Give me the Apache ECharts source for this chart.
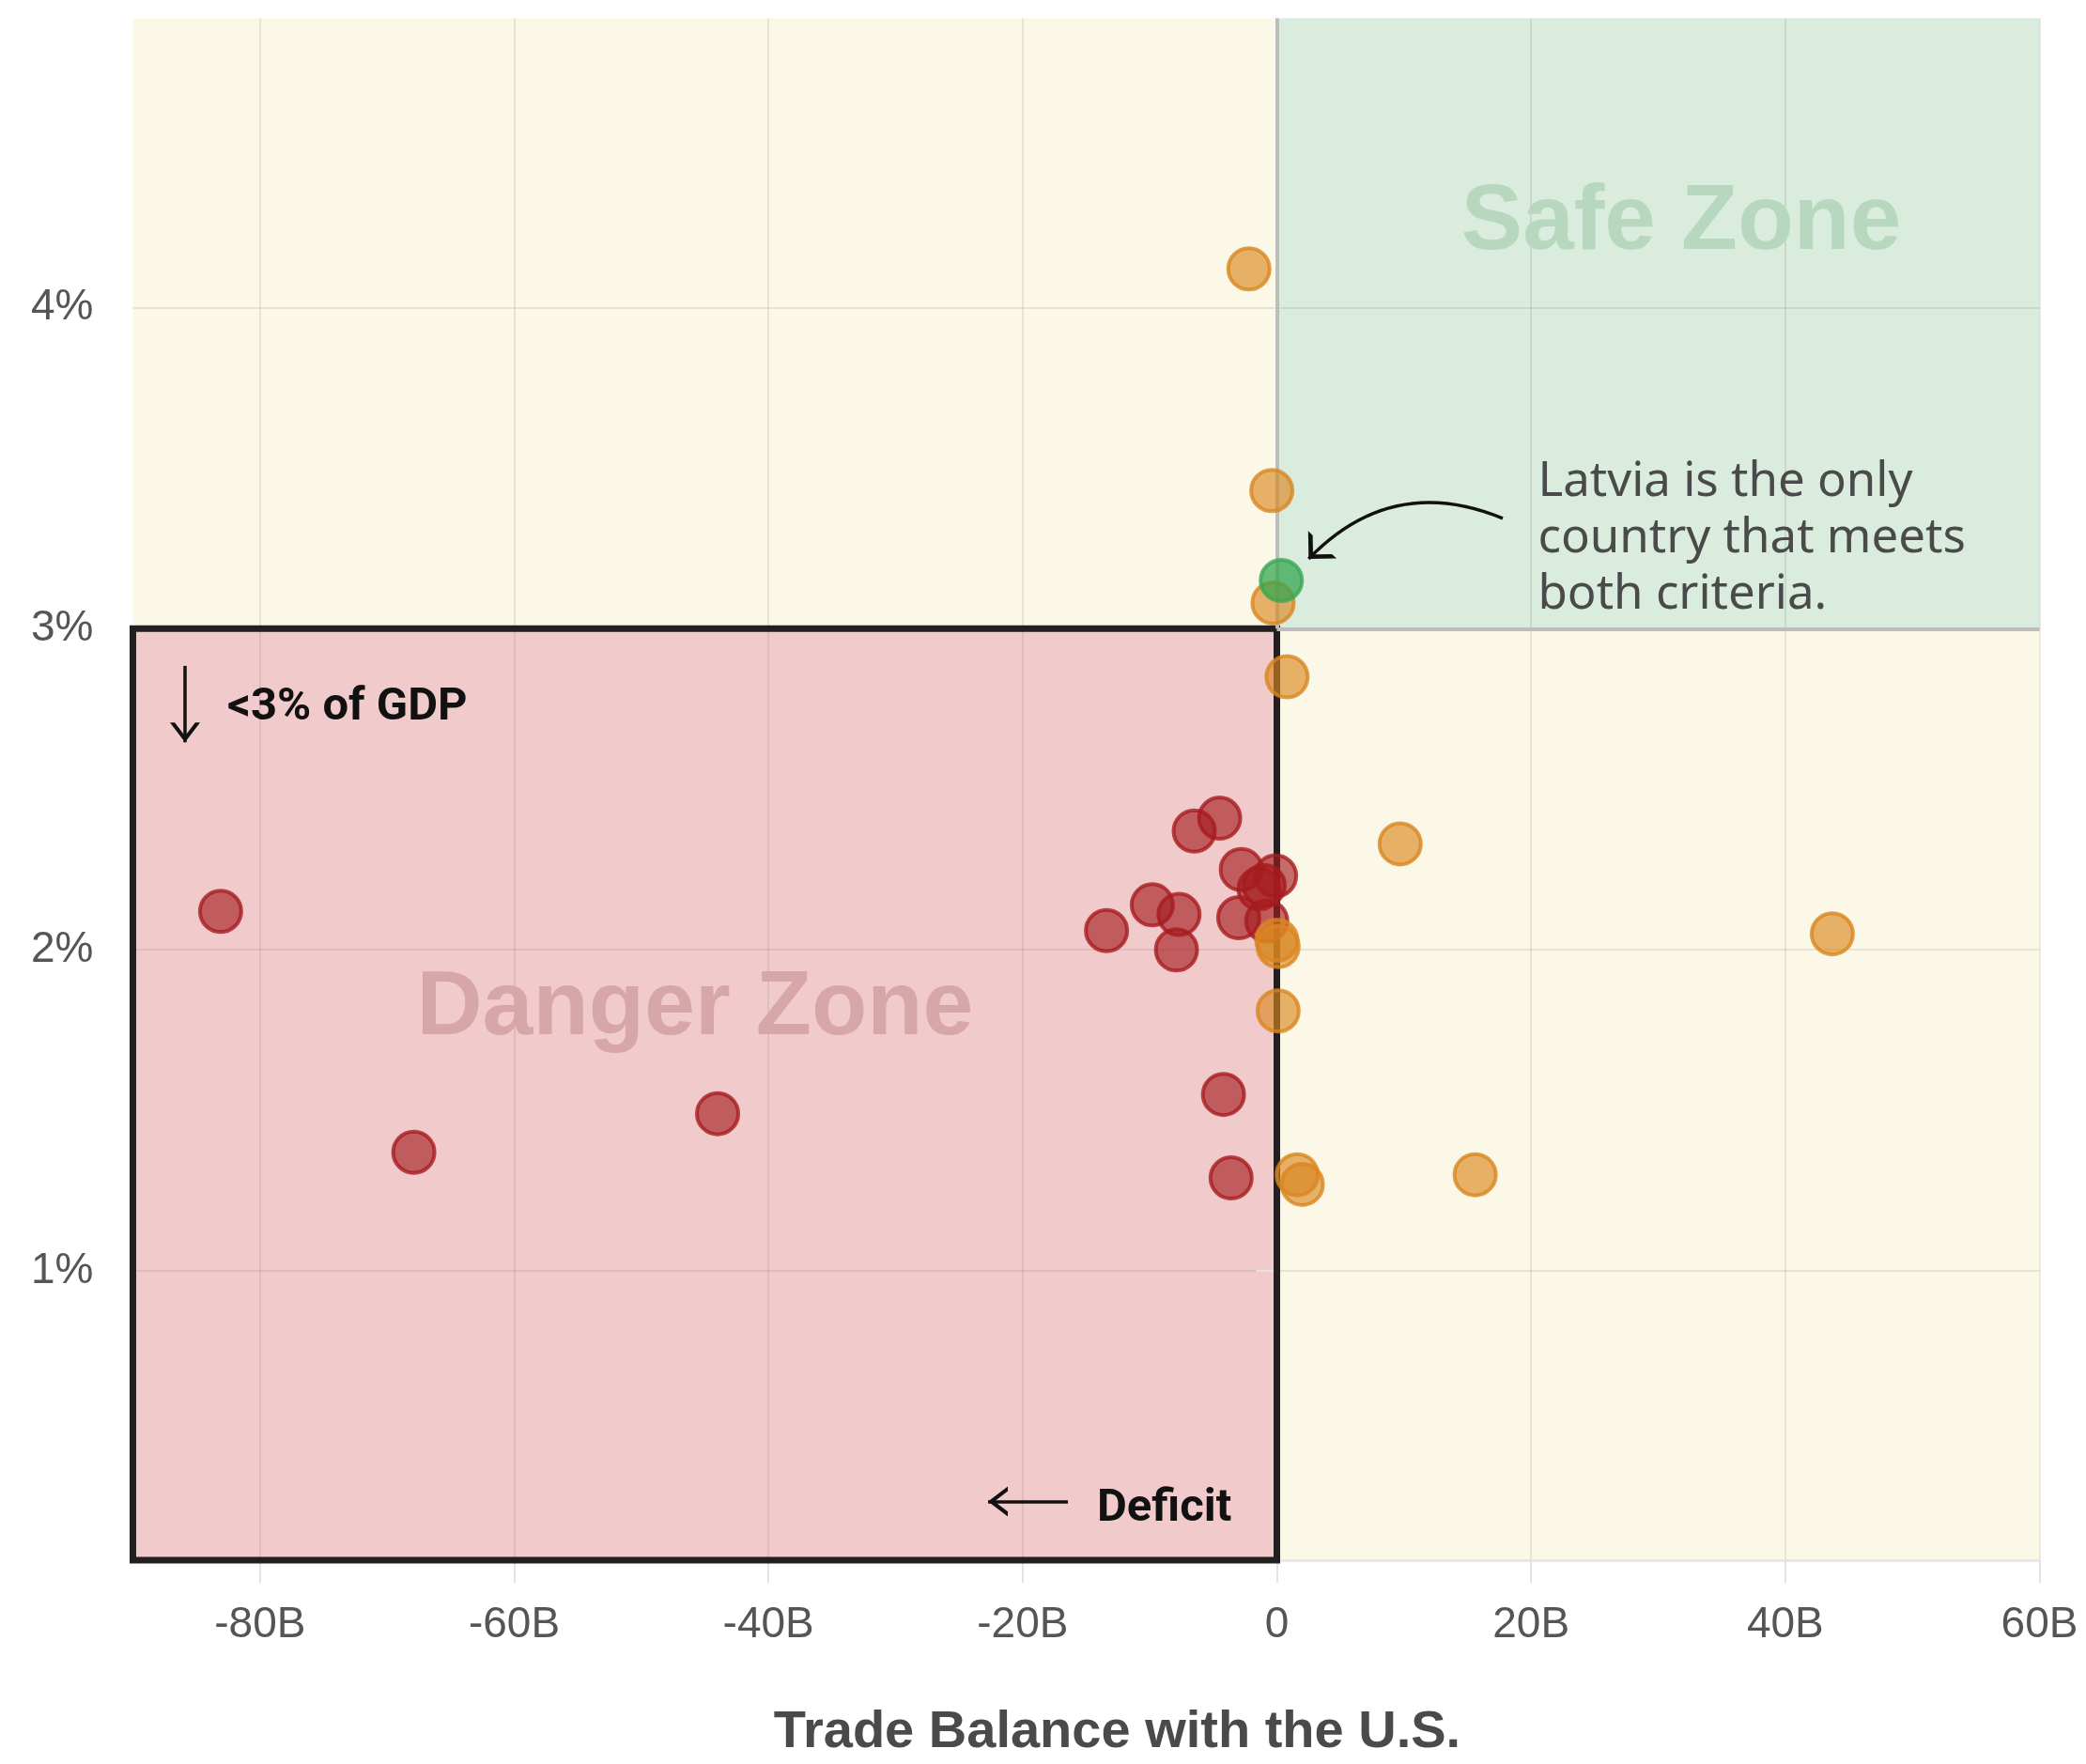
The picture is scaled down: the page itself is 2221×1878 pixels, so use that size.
<!DOCTYPE html>
<html><head><meta charset="utf-8">
<script src="https://cdn.jsdelivr.net/npm/echarts@6/dist/echarts.min.js"></script>
<style>html,body{margin:0;padding:0;background:#fff}#c{width:2221px;height:1878px}</style>
</head><body><div id="c"></div>
<script>
// ---- data ----
const xTicks = [-80, -60, -40, -20, 0, 20, 40, 60];       // trade balance, billions USD
const yTicks = [1, 2, 3, 4];                               // % of GDP
const xRange = [-90, 60];
const yRange = [0.1, 4.9];
const gdpLimit = 3;
// [trade balance with the U.S. (B), % of GDP]
const dangerPoints = [
  [-83.1, 2.12], [-67.9, 1.37], [-44.0, 1.49], [-13.4, 2.06], [-9.8, 2.14],
  [-7.7, 2.11], [-7.9, 2.00], [-6.5, 2.37], [-4.5, 2.41], [-2.8, 2.25],
  [-0.1, 2.23], [-1.0, 2.20], [-1.4, 2.19], [-3.0, 2.10], [-0.8, 2.09],
  [-4.2, 1.55], [-3.6, 1.29]
];
const oneCriterionPoints = [
  [-2.2, 4.12], [-0.4, 3.43], [-0.3, 3.08], [0.8, 2.85], [9.7, 2.33],
  [43.7, 2.05], [0.0, 2.03], [0.1, 2.01], [0.1, 1.81], [1.6, 1.30],
  [2.0, 1.27], [15.6, 1.30]
];
const bothCriteriaPoints = [[0.35, 3.15]];
// annotation arrow from the note to Latvia
const noteArrow = [[17.77, 3.343], [2.5, 3.217]];
const texts = {
  xTitle: 'Trade Balance with the U.S.',
  safe: 'Safe Zone',
  danger: 'Danger Zone',
  gdp: '<3% of GDP',
  deficit: 'Deficit',
  note: 'Latvia is the only\ncountry that meets\nboth criteria.'
};

const CHEV = 'path://M16,0L16.1,0L16,0.1Z M16,20L32,40L26.9,40L16,26.4L5.1,40L0,40Z';
const tickFont = 'Liberation Sans, Arial, sans-serif';
const arrowStyle = {color: '#111', width: 3.5, type: 'solid'};

const chart = echarts.init(document.getElementById('c'), null, {renderer: 'canvas'});

const option = {
  animation: false,
  backgroundColor: '#ffffff',
  grid: {left: 141.5, right: 49.5, top: 19.5, bottom: 202.5, containLabel: false},
  xAxis: {
    type: 'value', min: xRange[0], max: xRange[1],
    name: texts.xTitle, nameLocation: 'middle', nameGap: 156,
    nameTextStyle: {fontSize: 56, fontWeight: 'bold', color: '#4a4a4a', fontFamily: tickFont, padding: [0, 0, 0, 66]},
    axisLine: {show: true, lineStyle: {color: '#E8E8E8', width: 3}},
    axisTick: {show: true, customValues: xTicks, length: 24, lineStyle: {color: '#E3E3E3', width: 2}},
    axisLabel: {customValues: xTicks, formatter: v => v === 0 ? '0' : v + 'B', fontSize: 46, color: '#555', margin: 46, fontFamily: tickFont},
    splitLine: {show: true, lineStyle: {color: 'rgba(0,0,0,0.08)', width: 2}}
  },
  yAxis: {
    type: 'value', min: yRange[0], max: yRange[1],
    axisLine: {show: false},
    axisTick: {show: true, customValues: yTicks, length: 22, lineStyle: {color: '#E3E3E3', width: 2}},
    axisLabel: {customValues: yTicks, formatter: v => v + '%', fontSize: 46, color: '#555', margin: 42, fontFamily: tickFont},
    splitLine: {show: true, lineStyle: {color: 'rgba(0,0,0,0.08)', width: 2}}
  },
  series: [
    {
      name: 'Zones', type: 'scatter', data: [], clip: false, silent: true,
      markArea: {
        silent: true, z: -1,
        label: {show: false},
        data: [
          [{coord: [xRange[0], yRange[0]], itemStyle: {color: '#FBF8E7'}}, {coord: [xRange[1], yRange[1]]}],
          [{coord: [xRange[0], yRange[0]], itemStyle: {color: '#F1CBCC'}}, {coord: [0, gdpLimit]}],
          [{coord: [0, gdpLimit], itemStyle: {color: '#D9ECDD'}}, {coord: [xRange[1], yRange[1]]}]
        ]
      }
    },
    {
      name: 'Note arrow', type: 'lines', coordinateSystem: 'cartesian2d', silent: true, z: 1,
      symbol: ['none', CHEV], symbolSize: [32, 42],
      lineStyle: {color: '#111', width: 3.5, type: 'solid', curveness: -0.34, opacity: 1},
      data: [{coords: noteArrow}]
    },
    {
      name: 'Danger', type: 'scatter', data: dangerPoints, clip: false,
      symbolSize: 44,
      itemStyle: {color: 'rgba(165,28,31,0.8)', borderColor: '#A81C1F', borderWidth: 4},
      markArea: {
        silent: true, z: 1,
        label: {show: false},
        data: [[{coord: [xRange[0], yRange[0]], itemStyle: {color: 'rgba(0,0,0,0)', borderColor: '#231F20', borderWidth: 7}}, {coord: [0, gdpLimit]}]]
      },
      markLine: {
        silent: true, z: 1, animation: false,
        symbol: ['none', 'none'],
        label: {show: false},
        lineStyle: {color: '#BDBDBD', width: 4, type: 'solid'},
        data: [
          [{coord: [0, gdpLimit]}, {coord: [0, yRange[1]]}],
          [{coord: [0, gdpLimit]}, {coord: [xRange[1], gdpLimit]}],
          [{coord: [-85.9, 2.884], lineStyle: arrowStyle},
           {coord: [-85.9, 2.646], symbol: CHEV, symbolSize: [32, 42]}],
          [{coord: [-16.44, 0.283], lineStyle: arrowStyle},
           {coord: [-22.72, 0.283], symbol: CHEV, symbolSize: [32, 42]}]
        ]
      }
    },
    {
      name: 'One criterion', type: 'scatter', data: oneCriterionPoints, clip: false,
      symbolSize: 44,
      itemStyle: {color: 'rgba(217,134,31,0.8)', borderColor: '#D9861F', borderWidth: 4}
    },
    {
      name: 'Both criteria', type: 'scatter', data: bothCriteriaPoints, clip: false,
      symbolSize: 44,
      itemStyle: {color: 'rgba(53,165,80,0.92)', borderColor: '#3AA852', borderWidth: 4}
    }
  ]
};
chart.setOption(option);

function px(x, y) { return chart.convertToPixel({gridIndex: 0}, [x, y]); }
const pSafe = px(31.81, 4.262);
const pDanger = px(-45.78, 1.815);
const pGdp = px(-82.58, 2.752);
const pDef = px(-14.15, 0.26);
const pNote = px(20.54, 3.28);
chart.setOption({
  graphic: [
    {type: 'text', x: pSafe[0], y: pSafe[1], silent: true, z: 3,
     style: {text: texts.safe, fontSize: 98, fontWeight: 'bold', fontFamily: tickFont, fill: '#B7D8BF', align: 'center', verticalAlign: 'middle'}},
    {type: 'text', x: pDanger[0], y: pDanger[1], silent: true, z: 3,
     style: {text: texts.danger, fontSize: 97, fontWeight: 'bold', fontFamily: tickFont, fill: '#D6A6A9', align: 'center', verticalAlign: 'middle'}},
    {type: 'text', x: pGdp[0], y: pGdp[1], silent: true, z: 3,
     style: {text: texts.gdp, fontSize: 49, fontWeight: 'bold', fontFamily: 'Roboto, sans-serif', fill: '#111', align: 'left', verticalAlign: 'middle'}},
    {type: 'text', x: pDef[0], y: pDef[1], silent: true, z: 3,
     style: {text: texts.deficit, fontSize: 49, fontWeight: 'bold', fontFamily: 'Roboto, sans-serif', fill: '#111', align: 'left', verticalAlign: 'middle'}},
    {type: 'text', x: pNote[0], y: pNote[1], silent: true, z: 3,
     style: {text: texts.note, fontSize: 51, lineHeight: 60, fontFamily: 'Noto Sans, sans-serif', fill: '#4a4a4a', align: 'left', verticalAlign: 'middle'}}
  ]
});
</script></body></html>
